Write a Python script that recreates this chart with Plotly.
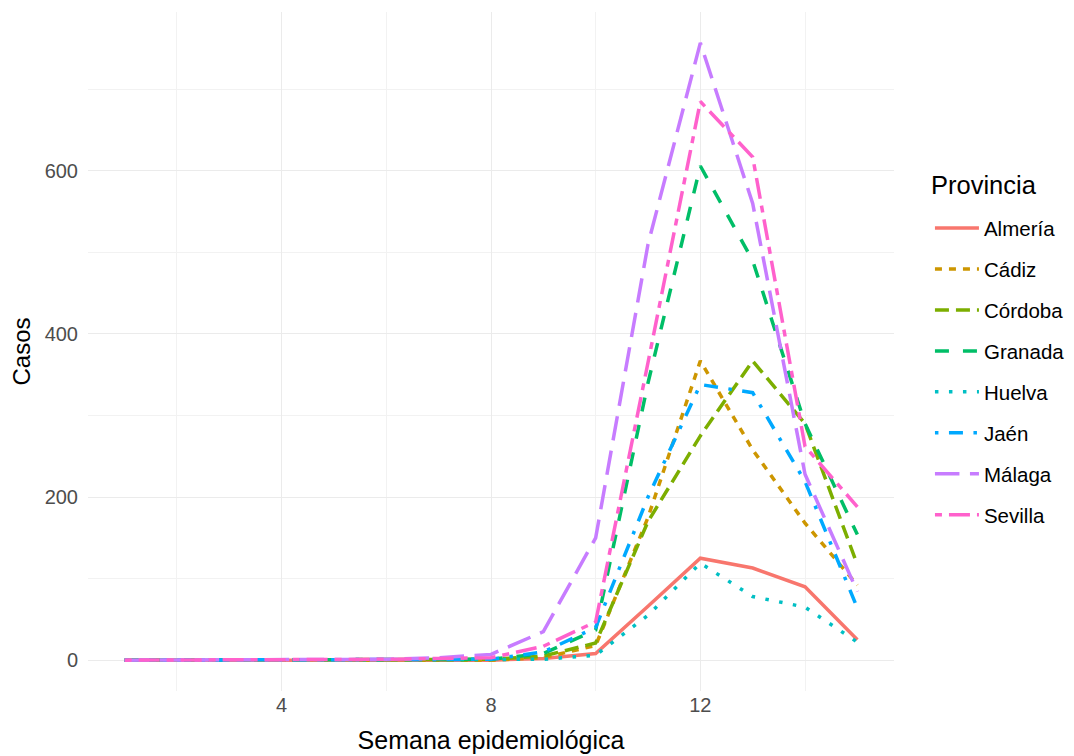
import plotly.graph_objects as go

semanas = list(range(1, 16))
provincias = ["Almería", "Cádiz", "Córdoba", "Granada", "Huelva", "Jaén", "Málaga", "Sevilla"]

almeria = [0, 0, 0, 0, 0, 0, 0, 0, 2, 8, 66, 125, 113, 90, 25]
cadiz   = [0, 0, 0, 0, 1, 0, 0, 0, 3, 18, 175, 367, 258, 168, 92]
cordoba = [0, 0, 0, 0, 0, 0, 0, 1, 5, 21, 170, 275, 367, 290, 117]
granada = [0, 0, 0, 0, 0, 0, 1, 1, 8, 37, 340, 606, 490, 290, 154]
huelva  = [0, 0, 0, 0, 0, 0, 0, 0, 1, 6, 55, 119, 78, 65, 22]
jaen    = [0, 0, 0, 0, 0, 1, 0, 1, 10, 40, 200, 338, 328, 219, 64]
malaga  = [0, 0, 0, 0, 1, 1, 3, 7, 35, 150, 510, 757, 560, 228, 84]
sevilla = [0, 0, 0, 1, 0, 1, 2, 3, 17, 47, 365, 685, 617, 262, 188]

series = [almeria, cadiz, cordoba, granada, huelva, jaen, malaga, sevilla]
colores = ["#F8766D", "#CD9600", "#7CAE00", "#00BE67", "#00BFC4", "#00A9FF", "#C77CFF", "#FF61CC"]
lw = 3.5
def d(*parts):
    return ",".join(f"{p*lw}px" for p in parts)
dashes = ["solid", d(2, 2), d(4, 2), d(4, 4), d(1, 3), d(1, 3, 4, 3), d(7, 3), d(2, 2, 6, 2)]

fig = go.Figure()
for name, vals, col, dash in zip(provincias, series, colores, dashes):
    fig.add_trace(go.Scatter(
        x=semanas, y=vals, mode="lines", name=name, legendgroup=name,
        line=dict(color=col, width=lw, dash=dash),
    ))

font = "Liberation Sans, Arial, sans-serif"
fig.update_layout(
    width=1066, height=748,
    margin=dict(l=80, r=178, t=4, b=65),
    plot_bgcolor="white", paper_bgcolor="white",
    font=dict(family=font, color="#000000"),
    showlegend=True,
    legend=dict(
        font=dict(size=20.5, color="#000000"),
        x=1.0446, xanchor="left", y=0.711, yanchor="top",
        tracegroupgap=11.3, itemwidth=44, bgcolor="rgba(0,0,0,0)",
    ),
    annotations=[dict(
        text="Provincia", xref="paper", yref="paper", x=1.0433, xanchor="left",
        y=1 - (177 - 4) / 679, yanchor="middle", showarrow=False,
        font=dict(size=25.5, color="#000000"),
    )],
    xaxis=dict(
        range=[0.3, 15.7], tickmode="array", tickvals=[4, 8, 12],
        showgrid=True, gridcolor="#EBEBEB", gridwidth=1.3,
        minor=dict(tickmode="array", tickvals=[2, 6, 10, 14], showgrid=True, gridcolor="#F2F2F2", gridwidth=0.8),
        zeroline=False, showline=False, ticks="",
        tickfont=dict(size=20, color="#4D4D4D"),
        title=dict(text="Semana epidemiológica", font=dict(size=25, color="#000000"), standoff=16),
    ),
    yaxis=dict(
        range=[-37.85, 794.85], tickmode="array", tickvals=[0, 200, 400, 600],
        showgrid=True, gridcolor="#EBEBEB", gridwidth=1.3,
        minor=dict(tickmode="array", tickvals=[100, 300, 500, 700], showgrid=True, gridcolor="#F2F2F2", gridwidth=0.8),
        zeroline=False, showline=False, ticks="", ticklabelstandoff=9,
        tickfont=dict(size=20, color="#4D4D4D"),
        title=dict(text="Casos", font=dict(size=24, color="#000000"), standoff=7),
    ),
)
fig.write_html("out.html")
